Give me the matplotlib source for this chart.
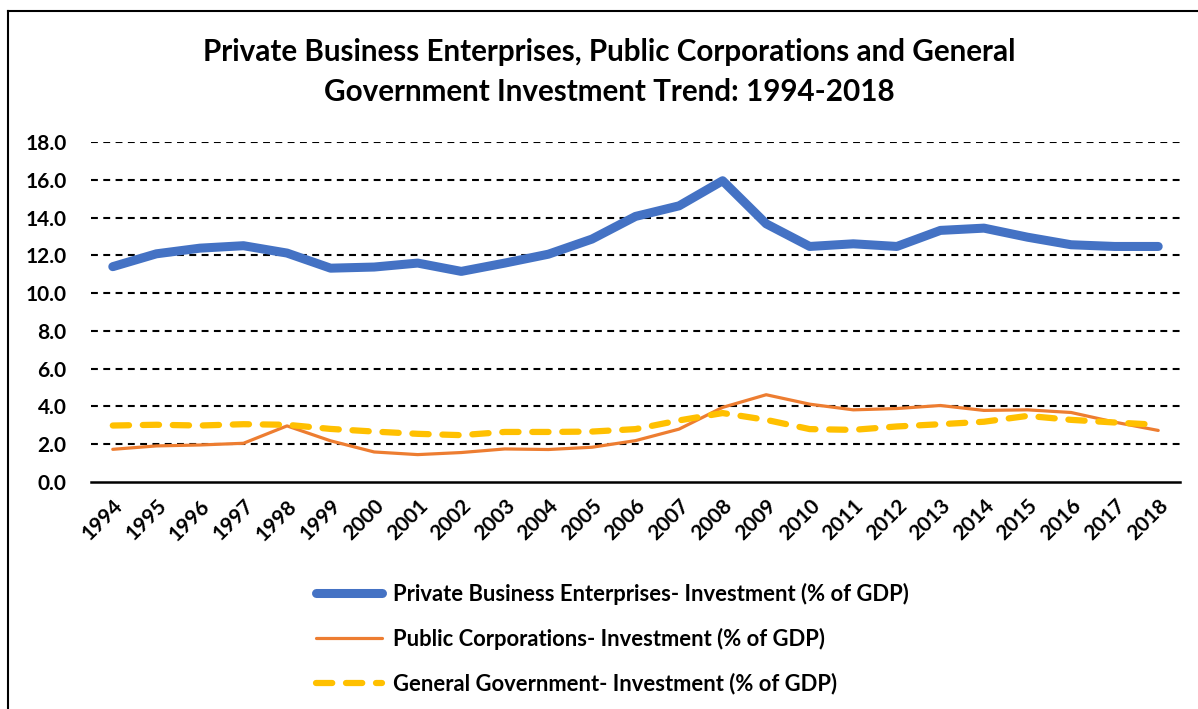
import matplotlib.pyplot as plt
from matplotlib.lines import Line2D

plt.rcParams['font.family'] = ['Lato', 'DejaVu Sans']
plt.rcParams['font.weight'] = 'bold'

years = [str(y) for y in range(1994, 2019)]

private_business = [11.4, 12.08, 12.38, 12.51, 12.12, 11.32, 11.38, 11.59, 11.15, 11.59,
                    12.06, 12.86, 14.06, 14.62, 15.95, 13.67, 12.47, 12.61, 12.47, 13.32,
                    13.44, 12.96, 12.56, 12.47, 12.47]
public_corps = [1.73, 1.91, 1.96, 2.05, 2.97, 2.18, 1.59, 1.45, 1.56, 1.75,
                1.72, 1.84, 2.19, 2.80, 3.95, 4.62, 4.12, 3.82, 3.89, 4.05,
                3.79, 3.82, 3.68, 3.17, 2.73]
general_gov = [2.99, 3.03, 2.99, 3.06, 3.03, 2.81, 2.67, 2.55, 2.48, 2.65,
               2.65, 2.67, 2.80, 3.26, 3.65, 3.29, 2.80, 2.76, 2.94, 3.06,
               3.19, 3.50, 3.29, 3.15, 3.03]

labels = ['Private Business Enterprises- Investment (% of GDP)',
          'Public Corporations- Investment (% of GDP)',
          'General Government- Investment (% of GDP)']

W, H = 1198, 709
fig = plt.figure(figsize=(W / 100, H / 100), dpi=100)
ax = fig.add_axes([91 / W, 1 - 482 / H, (1180 - 91) / W, (482 - 142) / H])

x = list(range(len(years)))
ax.plot(x, private_business, color='#4472C4', lw=6.5, solid_capstyle='round',
        solid_joinstyle='round', label=labels[0], zorder=3)
ax.plot(x, public_corps, color='#ED7D31', lw=2.3, solid_capstyle='round',
        solid_joinstyle='round', label=labels[1], zorder=3)
ax.plot(x, general_gov, color='#FFC000', lw=4.5, ls=(0, (2.6, 2.2)),
        dash_capstyle='round', label=labels[2], zorder=3)

ax.set_xlim(-0.5, len(years) - 0.5)
ax.set_ylim(0, 18)
ax.set_yticks([i * 2 for i in range(10)])
ax.set_yticklabels([f'{i * 2:.1f}' for i in range(10)], fontsize=15, fontweight='bold')
ax.set_xticks(x)
ax.set_xticklabels(years, rotation=45, ha='right', va='top', rotation_mode='anchor',
                   fontsize=15, fontweight='bold')
ax.tick_params(axis='both', length=0)
ax.tick_params(axis='y', pad=17.5)
ax.tick_params(axis='x', pad=10)

# dashed black gridlines, solid baseline
for v in range(2, 20, 2):
    ax.axhline(v, color='black', lw=1.5, ls=(0, (3.3, 2.6)), zorder=1)
for side in ['top', 'right', 'left']:
    ax.spines[side].set_visible(False)
ax.spines['bottom'].set_linewidth(1.8)

fig.text(609 / W, 1 - 72 / H,
         'Private Business Enterprises, Public Corporations and General\n'
         'Government Investment Trend: 1994-2018',
         ha='center', va='center', fontsize=21.3, fontweight='bold', linespacing=1.55)

leg = ax.legend(loc='upper left', bbox_to_anchor=(296 / W, 1 - 563 / H),
                bbox_transform=fig.transFigure, frameon=False, fontsize=15.8,
                handlelength=3.0, handletextpad=0.53, labelspacing=1.05)
for t in leg.get_texts():
    t.set_fontweight('bold')

# frame around the chart
fig.add_artist(Line2D([8 / W, 1], [1 - 11 / H, 1 - 11 / H], color='black', lw=1.5,
                      transform=fig.transFigure))
fig.add_artist(Line2D([8 / W, 8 / W], [0, 1 - 11 / H], color='black', lw=1.5,
                      transform=fig.transFigure))

fig.savefig('out.png', dpi=100)
